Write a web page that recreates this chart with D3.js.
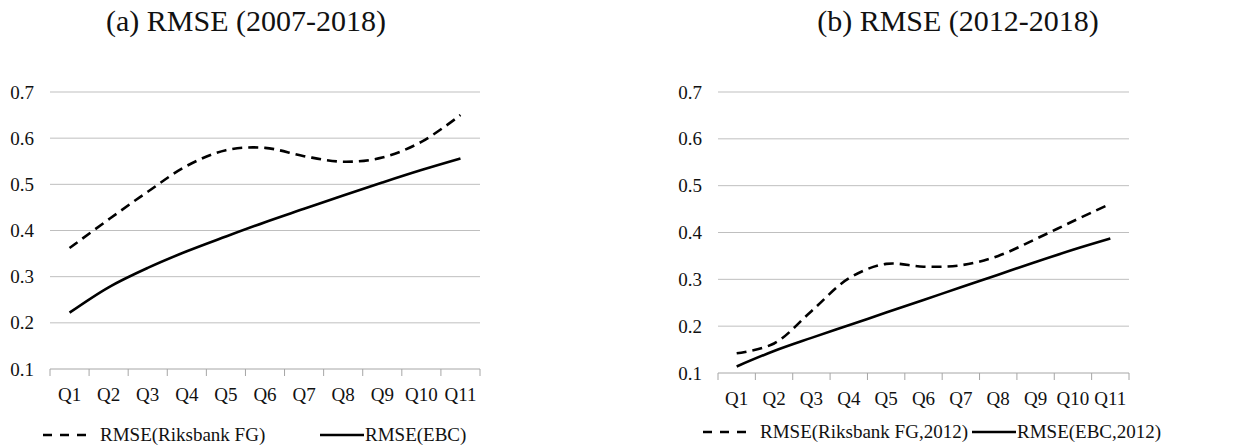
<!DOCTYPE html>
<html>
<head>
<meta charset="utf-8">
<script src="https://cdn.jsdelivr.net/npm/d3@7"></script>
<style>
  html, body { margin: 0; padding: 0; background: #fff; }
  svg { display: block; }
</style>
</head>
<body>
<svg width="1250" height="445"></svg>
<script>
const quarters = ['Q1', 'Q2', 'Q3', 'Q4', 'Q5', 'Q6', 'Q7', 'Q8', 'Q9', 'Q10', 'Q11'];
const yTicks = [0.1, 0.2, 0.3, 0.4, 0.5, 0.6, 0.7];

// panel (a) 2007-2018
const riksbankFG = [0.362, 0.424, 0.484, 0.540, 0.574, 0.579, 0.561, 0.549, 0.558, 0.592, 0.650];
const ebc = [0.222, 0.277, 0.319, 0.355, 0.387, 0.418, 0.447, 0.476, 0.504, 0.531, 0.556];

// panel (b) 2012-2018
const riksbankFG2012 = [0.142, 0.163, 0.232, 0.302, 0.333, 0.327, 0.330, 0.350, 0.386, 0.424, 0.461];
const ebc2012 = [0.114, 0.147, 0.175, 0.202, 0.229, 0.256, 0.283, 0.310, 0.337, 0.363, 0.387];

const svg = d3.select('svg');
const serif = '"Liberation Serif", "Times New Roman", serif';

function drawPanel(cfg) {
    const x = d3.scaleBand().domain(quarters).range([cfg.left, cfg.right]);
    const y = d3.scaleLinear().domain([0.1, 0.7]).range([cfg.bottom, cfg.top]);
    const g = svg.append('g');

    // titulo
    g.append('text')
        .attr('x', cfg.titleX)
        .attr('y', 31)
        .attr('text-anchor', 'middle')
        .attr('font-family', serif)
        .attr('font-size', 30)
        .attr('fill', '#111')
        .text(cfg.title);

    // grade
    g.selectAll('line.grid')
        .data(yTicks.slice(1))
        .enter()
        .append('line')
        .attr('class', 'grid')
        .attr('x1', cfg.left)
        .attr('x2', cfg.right)
        .attr('y1', d => y(d))
        .attr('y2', d => y(d))
        .attr('stroke', '#bfbfbf')
        .attr('stroke-width', 1);

    // eixo y (so os rotulos)
    const yAxis = d3.axisLeft(y).tickValues(yTicks).tickFormat(d3.format('.1f')).tickSize(0).tickPadding(16);
    g.append('g')
        .attr('transform', `translate(${cfg.left},0)`)
        .call(yAxis)
        .call(a => a.select('.domain').remove())
        .call(a => a.selectAll('text')
            .attr('font-family', serif).attr('font-size', 19).attr('fill', '#111'));

    // eixo x
    const xAxis = d3.axisBottom(x).tickSize(0).tickPadding(19);
    g.append('g')
        .attr('transform', `translate(0,${cfg.bottom})`)
        .call(xAxis)
        .call(a => a.select('.domain').remove())
        .call(a => a.selectAll('text')
            .attr('font-family', serif).attr('font-size', 19).attr('fill', '#111'));

    g.append('line')
        .attr('x1', cfg.left).attr('x2', cfg.right)
        .attr('y1', cfg.bottom).attr('y2', cfg.bottom)
        .attr('stroke', '#a6a6a6');

    const edges = quarters.map(q => x(q)).concat([cfg.right]);
    g.selectAll('line.xtick')
        .data(edges)
        .enter()
        .append('line')
        .attr('class', 'xtick')
        .attr('x1', d => d).attr('x2', d => d)
        .attr('y1', cfg.bottom).attr('y2', cfg.bottom + 7)
        .attr('stroke', '#a6a6a6');

    const line = d3.line()
        .x((d, i) => x(quarters[i]) + x.bandwidth() / 2)
        .y(d => y(d))
        .curve(d3.curveCatmullRom.alpha(0.5));

    g.append('path')
        .datum(cfg.dashed)
        .attr('d', line)
        .attr('fill', 'none')
        .attr('stroke', '#000')
        .attr('stroke-width', 2.6)
        .attr('stroke-dasharray', '10,6');

    g.append('path')
        .datum(cfg.solid)
        .attr('d', line)
        .attr('fill', 'none')
        .attr('stroke', '#000')
        .attr('stroke-width', 2.6);

    // legenda
    const ly = cfg.legendY;
    g.append('line')
        .attr('x1', cfg.leg1).attr('x2', cfg.leg1 + 44)
        .attr('y1', ly).attr('y2', ly)
        .attr('stroke', '#000').attr('stroke-width', 2.6)
        .attr('stroke-dasharray', '9,8');
    g.append('text')
        .attr('x', cfg.leg1 + 57).attr('y', ly + 6)
        .attr('font-family', serif).attr('font-size', 19).attr('fill', '#111')
        .text(cfg.names[0]);
    g.append('line')
        .attr('x1', cfg.leg2).attr('x2', cfg.leg2 + 44)
        .attr('y1', ly).attr('y2', ly)
        .attr('stroke', '#000').attr('stroke-width', 2.6);
    g.append('text')
        .attr('x', cfg.leg2 + 45).attr('y', ly + 6)
        .attr('font-family', serif).attr('font-size', 19).attr('fill', '#111')
        .text(cfg.names[1]);
}

drawPanel({
    title: '(a) RMSE (2007-2018)', titleX: 246,
    left: 50, right: 480, top: 92, bottom: 369,
    dashed: riksbankFG, solid: ebc,
    legendY: 435, leg1: 43, leg2: 320,
    names: ['RMSE(Riksbank FG)', 'RMSE(EBC)']
});

drawPanel({
    title: '(b) RMSE (2012-2018)', titleX: 958,
    left: 718, right: 1129, top: 92, bottom: 373,
    dashed: riksbankFG2012, solid: ebc2012,
    legendY: 432, leg1: 703, leg2: 972,
    names: ['RMSE(Riksbank FG,2012)', 'RMSE(EBC,2012)']
});
</script>
</body>
</html>
